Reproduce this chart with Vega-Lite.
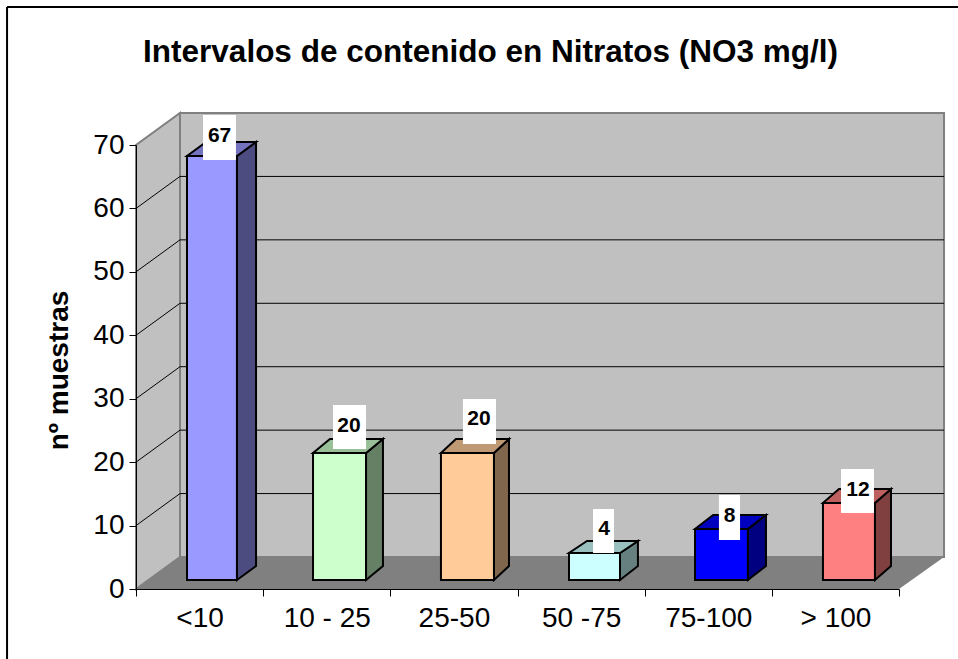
{"$schema":"https://vega.github.io/schema/vega-lite/v6.json","width":763,"height":444,"autosize":{"type":"none"},"padding":{"left":136,"top":145,"right":59,"bottom":70},"background":"white","config":{"view":{"stroke":null},"font":"Liberation Sans"},"title":{"text":"Intervalos de contenido en Nitratos (NO3 mg/l)","font":"Liberation Sans","fontSize":31.5,"fontWeight":"bold","color":"black","anchor":"middle","frame":"group","dx":-27,"offset":-62},"resolve":{"scale":{"fill":"independent"}},"encoding":{"x":{"field":"x","type":"quantitative","scale":{"domain":[0,6],"nice":false,"zero":false},"axis":{"title":null,"values":[0,1,2,3,4,5,6],"grid":false,"labelExpr":"['<10','10 - 25','25-50','50 -75','75-100','> 100',''][datum.value]","labelOffset":63.6,"labelFontSize":28,"labelColor":"black","labelPadding":8,"labelFlush":false,"labelOverlap":false,"labelBound":false,"tickColor":"black","tickSize":7,"domainColor":"black","zindex":1}},"y":{"field":"y","type":"quantitative","stack":null,"scale":{"domain":[0,70],"nice":false,"zero":false},"axis":{"title":"nº muestras","titleFontSize":28,"titleFontWeight":"bold","titleColor":"black","titlePadding":19,"titleY":225,"values":[0,10,20,30,40,50,60,70],"grid":false,"labelFontSize":28,"labelColor":"black","labelPadding":5,"labelFlush":false,"labelOverlap":false,"labelBound":false,"tickColor":"black","tickSize":7,"domainColor":"black","zindex":1}}},"layer":[{"data":{"values":[{"x":-1.014,"x2":6.464,"y":91.75,"y2":91.75},{"x":-1.014,"x2":-1.014,"y":91.75,"y2":-11.04}]},"mark":{"type":"rule","color":"black","strokeWidth":2},"encoding":{"x2":{"field":"x2"},"y2":{"field":"y2"}}},{"data":{"values":[{"x":0.346,"x2":6.354,"y":5.045,"y2":75.04}]},"mark":{"type":"rect","fill":"#C0C0C0","stroke":"#808080","strokeWidth":2},"encoding":{"x2":{"field":"x2"},"y2":{"field":"y2"}}},{"data":{"values":[{"x":0,"y":0,"y2":70},{"x":0.346,"y":5.045,"y2":75.04}]},"mark":{"type":"area","fill":"#C0C0C0","stroke":"#808080","strokeWidth":2},"encoding":{"y2":{"field":"y2"}}},{"data":{"values":[{"x":0.346,"x2":6.354,"y":65.045,"y2":65.045},{"x":0.346,"x2":6.354,"y":55.045,"y2":55.045},{"x":0.346,"x2":6.354,"y":45.045,"y2":45.045},{"x":0.346,"x2":6.354,"y":35.045,"y2":35.045},{"x":0.346,"x2":6.354,"y":25.045,"y2":25.045},{"x":0.346,"x2":6.354,"y":15.045,"y2":15.045},{"x":0,"x2":0.346,"y":60,"y2":65.045},{"x":0,"x2":0.346,"y":50,"y2":55.045},{"x":0,"x2":0.346,"y":40,"y2":45.045},{"x":0,"x2":0.346,"y":30,"y2":35.045},{"x":0,"x2":0.346,"y":20,"y2":25.045},{"x":0,"x2":0.346,"y":10,"y2":15.045}]},"mark":{"type":"rule","color":"black","strokeWidth":1},"encoding":{"x2":{"field":"x2"},"y2":{"field":"y2"}}},{"data":{"values":[{"y":0,"x":0,"x2":6},{"y":5.045,"x":0.346,"x2":6.354}]},"mark":{"type":"area","orient":"horizontal","fill":"#808080"},"encoding":{"x":{"field":"x","type":"quantitative","stack":null},"x2":{"field":"x2"}}},{"data":{"values":[{"id":"<10","x":0.401,"x2":0.794,"y":1.42,"y2":68.26},{"id":"10 - 25","x":1.392,"x2":1.809,"y":1.42,"y2":21.44},{"id":"25-50","x":2.398,"x2":2.815,"y":1.42,"y2":21.44},{"id":"50 -75","x":3.405,"x2":3.806,"y":1.42,"y2":5.68},{"id":"75-100","x":4.396,"x2":4.812,"y":1.42,"y2":9.46},{"id":"> 100","x":5.402,"x2":5.811,"y":1.42,"y2":13.56}]},"mark":{"type":"rect","stroke":"black","strokeWidth":2},"encoding":{"x2":{"field":"x2"},"y2":{"field":"y2"},"fill":{"field":"id","type":"nominal","legend":null,"scale":{"domain":["<10","10 - 25","25-50","50 -75","75-100","> 100"],"range":["#9999FF","#CCFFCC","#FFCC99","#CCFFFF","#0000FF","#FF8080"]}}}},{"data":{"values":[{"id":"<10 side","x":0.794,"y":1.42,"y2":68.26},{"id":"<10 side","x":0.944,"y":3.63,"y2":70.47},{"id":"10 - 25 side","x":1.809,"y":1.42,"y2":21.44},{"id":"10 - 25 side","x":1.942,"y":3.63,"y2":23.65},{"id":"25-50 side","x":2.815,"y":1.42,"y2":21.44},{"id":"25-50 side","x":2.933,"y":3.63,"y2":23.65},{"id":"50 -75 side","x":3.806,"y":1.42,"y2":5.68},{"id":"50 -75 side","x":3.947,"y":3.63,"y2":7.57},{"id":"75-100 side","x":4.812,"y":1.42,"y2":9.46},{"id":"75-100 side","x":4.954,"y":3.63,"y2":11.67},{"id":"> 100 side","x":5.811,"y":1.42,"y2":13.56},{"id":"> 100 side","x":5.937,"y":3.63,"y2":15.77}]},"mark":{"type":"area","stroke":"black","strokeWidth":2},"encoding":{"y2":{"field":"y2"},"fill":{"field":"id","type":"nominal","legend":null,"scale":{"domain":["<10 side","10 - 25 side","25-50 side","50 -75 side","75-100 side","> 100 side"],"range":["#4C4C80","#668066","#80664D","#668080","#000080","#804040"]}}}},{"data":{"values":[{"id":"<10 top","y":68.26,"x":0.401,"x2":0.794},{"id":"<10 top","y":70.47,"x":0.551,"x2":0.944},{"id":"10 - 25 top","y":21.44,"x":1.392,"x2":1.809},{"id":"10 - 25 top","y":23.65,"x":1.525,"x2":1.942},{"id":"25-50 top","y":21.44,"x":2.398,"x2":2.815},{"id":"25-50 top","y":23.65,"x":2.516,"x2":2.933},{"id":"50 -75 top","y":5.68,"x":3.405,"x2":3.806},{"id":"50 -75 top","y":7.57,"x":3.546,"x2":3.947},{"id":"75-100 top","y":9.46,"x":4.396,"x2":4.812},{"id":"75-100 top","y":11.67,"x":4.538,"x2":4.954},{"id":"> 100 top","y":13.56,"x":5.402,"x2":5.811},{"id":"> 100 top","y":15.77,"x":5.528,"x2":5.937}]},"mark":{"type":"area","orient":"horizontal","stroke":"black","strokeWidth":2},"encoding":{"x":{"field":"x","type":"quantitative","stack":null},"x2":{"field":"x2"},"fill":{"field":"id","type":"nominal","legend":null,"scale":{"domain":["<10 top","10 - 25 top","25-50 top","50 -75 top","75-100 top","> 100 top"],"range":["#7373BF","#99BF99","#BF9973","#99BFBF","#0000BF","#BF6060"]}}}},{"data":{"values":[{"x":0.527,"x2":0.786,"y":74.73,"y2":67.63},{"x":1.549,"x2":1.809,"y":29.01,"y2":22.07},{"x":2.571,"x2":2.831,"y":29.95,"y2":22.86},{"x":3.594,"x2":3.759,"y":12.61,"y2":5.68},{"x":4.584,"x2":4.75,"y":14.82,"y2":7.73},{"x":5.544,"x2":5.803,"y":18.92,"y2":11.98}]},"mark":{"type":"rect","fill":"white"},"encoding":{"x2":{"field":"x2"},"y2":{"field":"y2"}}},{"data":{"values":[{"value":67,"x":0.657,"y":71.73},{"value":20,"x":1.675,"y":26.01},{"value":20,"x":2.697,"y":26.96},{"value":4,"x":3.68,"y":9.62},{"value":8,"x":4.667,"y":11.82},{"value":12,"x":5.677,"y":15.92}]},"mark":{"type":"text","fontSize":21,"fontWeight":"bold","color":"black","align":"center","baseline":"middle","dy":1.5},"encoding":{"text":{"field":"value","type":"quantitative"}}}]}
